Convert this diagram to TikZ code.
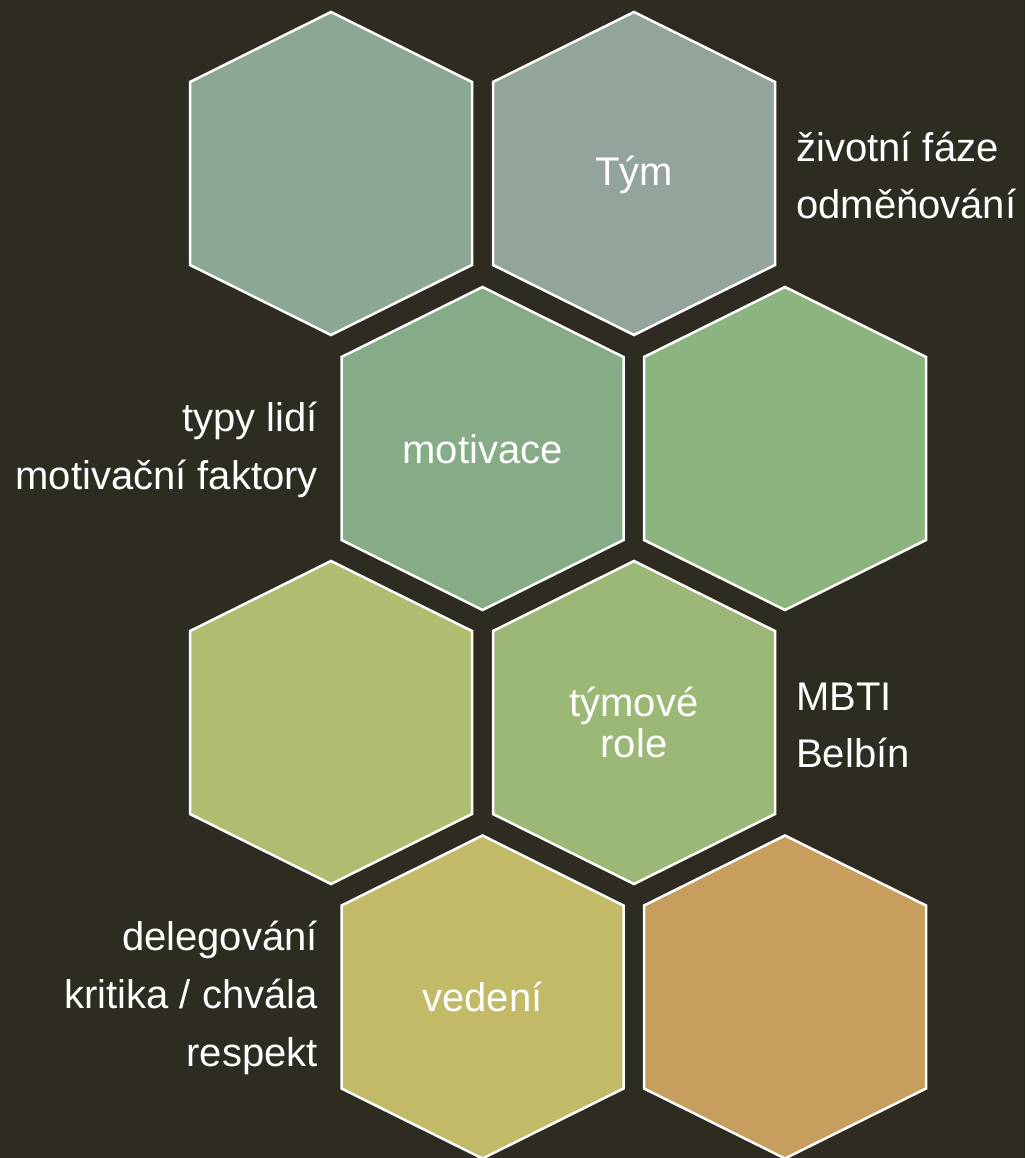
\documentclass[tikz,border=0pt]{standalone}
\usepackage{fontspec}
\setmainfont{Liberation Sans}
\definecolor{bgcol}{HTML}{2E2B21}
\definecolor{hexA}{HTML}{8BA894}
\definecolor{hexB}{HTML}{93A49B}
\definecolor{hexC}{HTML}{85AC86}
\definecolor{hexD}{HTML}{8BB47F}
\definecolor{hexE}{HTML}{AFBD70}
\definecolor{hexF}{HTML}{9BB877}
\definecolor{hexG}{HTML}{C2BA67}
\definecolor{hexH}{HTML}{C89E5E}
\tikzset{
  hexa/.pic={\draw[draw=white, line width=2.5pt, line join=miter, fill=#1]
     (0,-161.5) -- (141,-91.5) -- (141,91.5) -- (0,161.5) -- (-141,91.5) -- (-141,-91.5) -- cycle;},
  hexlabel/.style={text=white, inner sep=0pt, align=center, font=\fontsize{40}{41}\selectfont},
  sidelabelL/.style={text=white, inner sep=0pt, align=left, anchor=west, font=\fontsize{40}{57}\selectfont},
  sidelabelR/.style={text=white, inner sep=0pt, align=right, anchor=east, font=\fontsize{40}{58}\selectfont}
}
\begin{document}
\begin{tikzpicture}[x=1pt,y=-1pt]
\fill[bgcol] (0,0) rectangle (1025,1158);
\useasboundingbox (0,0) rectangle (1025,1158);
% row 1
\pic at (331,173.5) {hexa=hexA};
\pic at (634,173.5) {hexa=hexB};
% row 2
\pic at (482.5,448.5) {hexa=hexC};
\pic at (785,448.5) {hexa=hexD};
% row 3
\pic at (331,722.5) {hexa=hexE};
\pic at (634,722.5) {hexa=hexF};
% row 4
\pic at (482.5,997) {hexa=hexG};
\pic at (785,997) {hexa=hexH};
% labels
\node[hexlabel] (tym) at (634,174.5) {Tým};
\node[hexlabel] (motivace) at (482.5,449) {motivace};
\node[hexlabel] (role) at (634,722.5) {týmové\\role};
\node[hexlabel] (vedeni) at (482.5,997) {vedení};
\node[sidelabelL] (tymnote) at (796,175) {životní fáze\\odměňování};
\node[sidelabelR] (motnote) at (318,449.5) {typy lidí\\motivační faktory};
\node[sidelabelL] (rolenote) at (796,725) {MBTI\\Belbín};
\node[sidelabelR] (vednote) at (318,998) {delegování\\kritika / chvála\\respekt};
\end{tikzpicture}
\end{document}
